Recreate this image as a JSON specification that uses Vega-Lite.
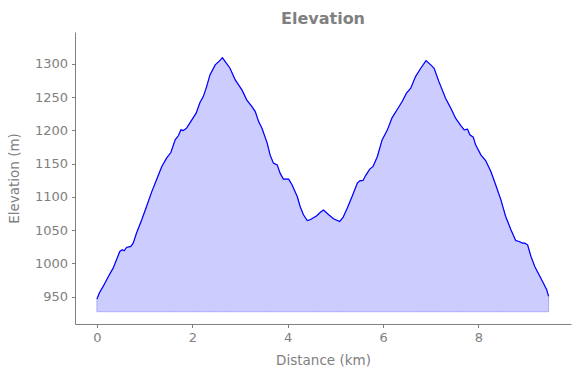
{
  "$schema": "https://vega.github.io/schema/vega-lite/v6.json",
  "width": 496,
  "height": 292,
  "autosize": {"type": "none"},
  "padding": {"left": 75, "top": 32, "right": 9, "bottom": 54},
  "background": "white",
  "config": {
    "view": {"stroke": null},
    "font": "DejaVu Sans",
    "axis": {
      "grid": false,
      "domainColor": "#808080",
      "tickColor": "#808080",
      "labelColor": "#808080",
      "titleColor": "#808080",
      "labelFont": "DejaVu Sans",
      "titleFont": "DejaVu Sans",
      "labelFontSize": 13,
      "titleFontSize": 13.5,
      "titleFontWeight": "normal",
      "tickSize": 3.5,
      "labelPadding": 4,
      "domainWidth": 1,
      "tickWidth": 1
    }
  },
  "title": {
    "text": "Elevation",
    "font": "DejaVu Sans",
    "fontSize": 16,
    "fontWeight": "bold",
    "color": "#808080",
    "anchor": "middle",
    "baseline": "alphabetic",
    "offset": 8,
    "dy": 16
  },
  "data": {
    "values": [
      {"d": 0.0, "e": 946.6},
      {"d": 0.05, "e": 955.6},
      {"d": 0.13, "e": 965.5},
      {"d": 0.24, "e": 980.5},
      {"d": 0.34, "e": 993},
      {"d": 0.41, "e": 1005.6},
      {"d": 0.48, "e": 1018},
      {"d": 0.53, "e": 1020.6},
      {"d": 0.57, "e": 1019},
      {"d": 0.62, "e": 1024},
      {"d": 0.71, "e": 1025.6},
      {"d": 0.76, "e": 1030.6},
      {"d": 0.83, "e": 1045.7},
      {"d": 0.94, "e": 1065.7},
      {"d": 1.04, "e": 1085.7},
      {"d": 1.15, "e": 1108},
      {"d": 1.25, "e": 1125.8},
      {"d": 1.36, "e": 1145.8},
      {"d": 1.46, "e": 1158.4},
      {"d": 1.55, "e": 1166.8},
      {"d": 1.64, "e": 1185.8},
      {"d": 1.71, "e": 1192.3},
      {"d": 1.76, "e": 1200.9},
      {"d": 1.81, "e": 1199.8},
      {"d": 1.88, "e": 1203.4},
      {"d": 1.99, "e": 1215.9},
      {"d": 2.08, "e": 1226},
      {"d": 2.16, "e": 1241.9},
      {"d": 2.23, "e": 1250.9},
      {"d": 2.3, "e": 1265.9},
      {"d": 2.37, "e": 1283.5},
      {"d": 2.48, "e": 1298.5},
      {"d": 2.57, "e": 1304.5},
      {"d": 2.63, "e": 1309.5},
      {"d": 2.69, "e": 1303.5},
      {"d": 2.79, "e": 1293.5},
      {"d": 2.9, "e": 1276},
      {"d": 2.97, "e": 1268.5},
      {"d": 3.04, "e": 1261},
      {"d": 3.14, "e": 1246},
      {"d": 3.25, "e": 1235.9},
      {"d": 3.32, "e": 1228.4},
      {"d": 3.39, "e": 1213.3},
      {"d": 3.46, "e": 1203.4},
      {"d": 3.57, "e": 1180.9},
      {"d": 3.63, "e": 1163.3},
      {"d": 3.7, "e": 1150.9},
      {"d": 3.78, "e": 1148.3},
      {"d": 3.84, "e": 1135.8},
      {"d": 3.91, "e": 1126.8},
      {"d": 4.02, "e": 1126.8},
      {"d": 4.09, "e": 1118.3},
      {"d": 4.2, "e": 1100.7},
      {"d": 4.26, "e": 1085.7},
      {"d": 4.33, "e": 1073.2},
      {"d": 4.41, "e": 1064.6},
      {"d": 4.47, "e": 1065.7},
      {"d": 4.61, "e": 1071.7},
      {"d": 4.68, "e": 1076.7},
      {"d": 4.75, "e": 1080.2},
      {"d": 4.86, "e": 1073.2},
      {"d": 4.96, "e": 1067.2},
      {"d": 5.09, "e": 1063.1},
      {"d": 5.16, "e": 1069.1},
      {"d": 5.25, "e": 1083.3},
      {"d": 5.35, "e": 1100.7},
      {"d": 5.46, "e": 1120.8},
      {"d": 5.51, "e": 1124.3},
      {"d": 5.58, "e": 1124.8},
      {"d": 5.63, "e": 1131.8},
      {"d": 5.72, "e": 1141.8},
      {"d": 5.79, "e": 1145.8},
      {"d": 5.88, "e": 1160.8},
      {"d": 5.98, "e": 1185.8},
      {"d": 6.09, "e": 1200.9},
      {"d": 6.19, "e": 1219.3},
      {"d": 6.3, "e": 1231.9},
      {"d": 6.4, "e": 1243.4},
      {"d": 6.49, "e": 1256},
      {"d": 6.58, "e": 1263.5},
      {"d": 6.68, "e": 1280.9},
      {"d": 6.79, "e": 1293.5},
      {"d": 6.9, "e": 1305},
      {"d": 7.0, "e": 1298.5},
      {"d": 7.07, "e": 1293.5},
      {"d": 7.17, "e": 1273.4},
      {"d": 7.31, "e": 1248.5},
      {"d": 7.42, "e": 1233.5},
      {"d": 7.52, "e": 1218.4},
      {"d": 7.63, "e": 1207.3},
      {"d": 7.7, "e": 1200.9},
      {"d": 7.77, "e": 1201.9},
      {"d": 7.82, "e": 1193.4},
      {"d": 7.89, "e": 1189.9},
      {"d": 7.94, "e": 1178.4},
      {"d": 8.05, "e": 1163.3},
      {"d": 8.15, "e": 1154.8},
      {"d": 8.26, "e": 1138.3},
      {"d": 8.36, "e": 1118.3},
      {"d": 8.47, "e": 1095.7},
      {"d": 8.57, "e": 1070.7},
      {"d": 8.68, "e": 1050.7},
      {"d": 8.78, "e": 1034.6},
      {"d": 8.85, "e": 1033.1},
      {"d": 8.92, "e": 1030.6},
      {"d": 8.97, "e": 1030.6},
      {"d": 9.03, "e": 1028.1},
      {"d": 9.1, "e": 1010.6},
      {"d": 9.18, "e": 995.5},
      {"d": 9.27, "e": 983},
      {"d": 9.36, "e": 970.6},
      {"d": 9.43, "e": 960.6},
      {"d": 9.47, "e": 950.5}
    ]
  },
  "encoding": {
    "x": {
      "field": "d",
      "type": "quantitative",
      "scale": {"domain": [-0.46, 9.94], "nice": false, "zero": false},
      "axis": {"values": [0, 2, 4, 6, 8], "title": "Distance (km)", "titlePadding": 9}
    }
  },
  "layer": [
    {
      "mark": {"type": "area", "color": "#ccccff", "stroke": "#aaaaff", "strokeWidth": 1, "opacity": 1},
      "encoding": {
        "y": {
          "field": "e",
          "type": "quantitative",
          "scale": {"domain": [909, 1348], "nice": false, "zero": false},
          "axis": {"values": [950, 1000, 1050, 1100, 1150, 1200, 1250, 1300], "format": "d", "title": "Elevation (m)", "titlePadding": 13}
        },
        "y2": {"datum": 927.5}
      }
    },
    {
      "mark": {"type": "line", "color": "#0000ff", "strokeWidth": 1.2},
      "encoding": {
        "y": {"field": "e", "type": "quantitative"}
      }
    }
  ]
}
